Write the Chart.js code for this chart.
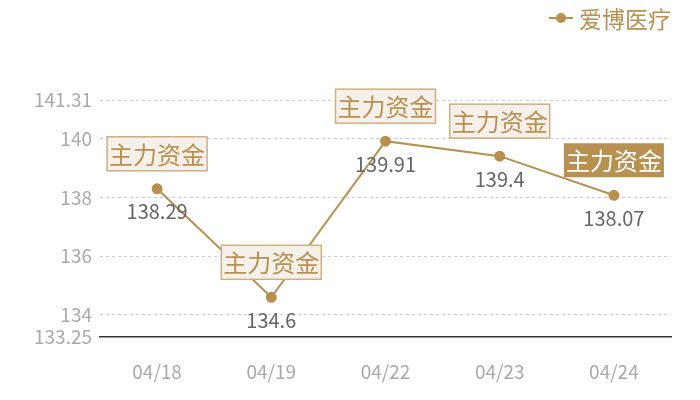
<!DOCTYPE html>
<html>
<head>
<meta charset="utf-8">
<script src="https://cdn.jsdelivr.net/npm/chart.js@4"></script>
<style>
  html, body { margin: 0; padding: 0; background: #fff; }
  #wrap { width: 700px; height: 400px; }
</style>
</head>
<body>
<div id="wrap"><canvas id="chart"></canvas></div>
<script>
const dates = ['04/18', '04/19', '04/22', '04/23', '04/24'];
const prices = [138.29, 134.6, 139.91, 139.4, 138.07];
const flagText = ['主力资金', '主力资金', '主力资金', '主力资金', '主力资金'];
const yTicks = [133.25, 134, 136, 138, 140, 141.31];
const seriesName = '爱博医疗';

const gold = '#b8904f';
const font = '"Noto Sans CJK SC", "Noto Sans", sans-serif';

// boxes, value labels and legend
const overlay = {
  id: 'overlay',
  afterDatasetsDraw(chart) {
    const ctx = chart.ctx;
    const meta = chart.getDatasetMeta(0);
    ctx.save();
    meta.data.forEach((pt, i) => {
      const x = pt.x, y = pt.y;
      // value label
      ctx.font = '20px ' + font;
      ctx.fillStyle = '#666';
      ctx.textAlign = 'center';
      ctx.textBaseline = 'middle';
      ctx.fillText(String(prices[i]), x, y + 23);

      // flag box
      const w = 100, h = 34;
      const bx = x - w / 2, by = y - 35 - h / 2;
      const last = i === prices.length - 1;
      ctx.fillStyle = last ? gold : '#f5f0ea';
      ctx.fillRect(bx, by, w, h);
      if (!last) {
        ctx.strokeStyle = '#cdb083';
        ctx.lineWidth = 1.5;
        ctx.strokeRect(bx, by, w, h);
      }
      ctx.font = '24px ' + font;
      ctx.fillStyle = last ? '#fff' : gold;
      ctx.fillText(flagText[i], x, by + h / 2 + 1);
    });

    // legend
    ctx.strokeStyle = gold;
    ctx.lineWidth = 2;
    ctx.beginPath();
    ctx.moveTo(549, 18);
    ctx.lineTo(573, 18);
    ctx.stroke();
    ctx.fillStyle = gold;
    ctx.beginPath();
    ctx.arc(561, 18, 5, 0, Math.PI * 2);
    ctx.fill();
    ctx.font = '23px ' + font;
    ctx.textAlign = 'left';
    ctx.fillText(seriesName, 579, 19);
    ctx.restore();
  }
};

new Chart(document.getElementById('chart'), {
  type: 'line',
  data: {
    labels: dates,
    datasets: [{
      label: seriesName,
      data: prices,
      borderColor: gold,
      backgroundColor: gold,
      borderWidth: 2,
      pointRadius: 4.5,
      pointHoverRadius: 4.5,
      tension: 0
    }]
  },
  options: {
    responsive: true,
    maintainAspectRatio: false,
    animation: false,
    layout: { padding: { top: 100, right: 29, left: 0, bottom: 0 } },
    plugins: { legend: { display: false }, tooltip: { enabled: false } },
    scales: {
      x: {
        offset: true,
        grid: { display: false, drawTicks: false },
        border: { display: true, color: '#333', width: 1.5 },
        ticks: { color: '#aaa', font: { size: 19, family: font }, padding: 23 },
        afterFit(scale) { scale.height = 63; }
      },
      y: {
        min: 133.25,
        max: 141.31,
        afterBuildTicks(scale) { scale.ticks = yTicks.map(v => ({ value: v })); },
        grid: {
          drawTicks: false,
          color: c => c.tick && c.tick.value === 133.25 ? 'rgba(0,0,0,0)' : '#ccc',
          lineWidth: 1
        },
        border: { display: false, dash: [3, 3] },
        ticks: {
          color: '#aaa',
          font: { size: 19, family: font },
          padding: 8,
          callback: v => String(v)
        },
        afterFit(scale) { scale.width = 100; }
      }
    }
  },
  plugins: [overlay]
});
</script>
</body>
</html>
